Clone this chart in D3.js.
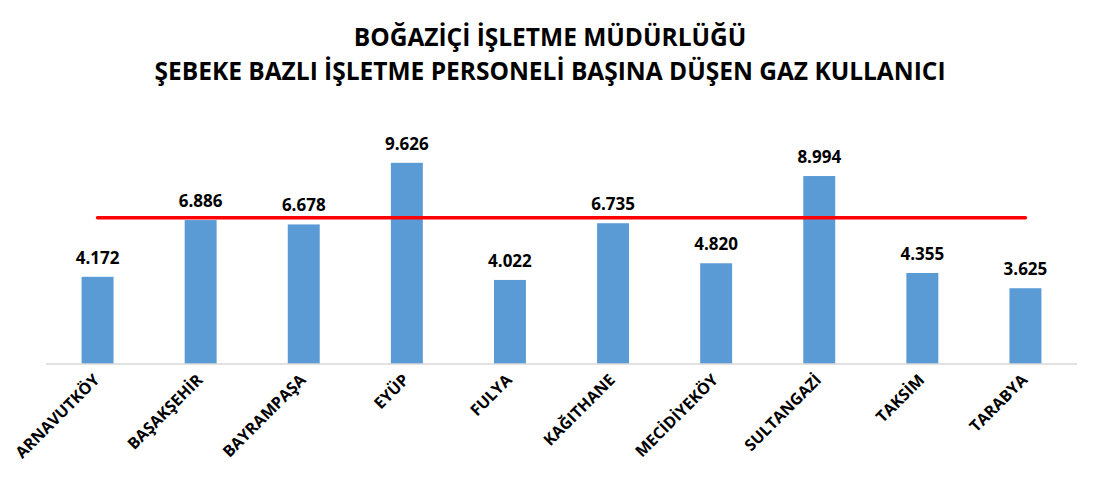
<!DOCTYPE html>
<html><head><meta charset="utf-8">
<script src="https://cdn.jsdelivr.net/npm/d3@7"></script>
<style>body{margin:0;background:#fff;}</style>
</head><body><svg id="c" width="1100" height="478"></svg>
<script>
const titleLines = ["BOĞAZİÇİ İŞLETME MÜDÜRLÜĞÜ", "ŞEBEKE BAZLI İŞLETME PERSONELİ BAŞINA DÜŞEN GAZ KULLANICI"];
const categories = ["ARNAVUTKÖY","BAŞAKŞEHİR","BAYRAMPAŞA","EYÜP","FULYA","KAĞITHANE","MECİDİYEKÖY","SULTANGAZİ","TAKSİM","TARABYA"];
const values = [4.172,6.886,6.678,9.626,4.022,6.735,4.820,8.994,4.355,3.625];
const targetValues = [7,7,7,7,7,7,7,7,7,7];

const svg = d3.select("#c");
const font = "'Open Sans', sans-serif";
const x = d3.scaleBand().domain(categories).range([46,1077]).paddingInner(0.69).paddingOuter(0.345);
const y = d3.scaleLinear().domain([0,10]).range([364,155]);

svg.selectAll("text.title").data(titleLines).join("text")
  .attr("x",550).attr("y",(d,i)=>46+i*34).attr("text-anchor","middle")
  .attr("font-family",font).attr("font-weight","bold").attr("font-size",24.5).attr("fill","#000").text(d=>d);

svg.selectAll("rect.bar").data(values).join("rect").attr("class","bar")
  .attr("x",(d,i)=>x(categories[i])).attr("width",x.bandwidth())
  .attr("y",d=>y(d)).attr("height",d=>y(0)-y(d)).attr("fill","#5b9bd5");

svg.append("line").attr("x1",46).attr("x2",1077).attr("y1",y(0)).attr("y2",y(0))
  .attr("stroke","#d9d9d9").attr("stroke-width",1.5);

const line = d3.line().x((d,i)=>x(categories[i])+x.bandwidth()/2).y(d=>y(d));
svg.append("path").datum(targetValues).attr("d",line).attr("fill","none")
  .attr("stroke","#ff0000").attr("stroke-width",3.5).attr("stroke-linecap","round");

svg.selectAll("text.val").data(values).join("text")
  .attr("x",(d,i)=>x(categories[i])+x.bandwidth()/2).attr("y",d=>y(d)-13)
  .attr("text-anchor","middle").attr("font-family",font).attr("font-weight","bold")
  .attr("font-size",17).attr("fill","#000").text(d=>d.toFixed(3));

svg.selectAll("text.cat").data(categories).join("text")
  .attr("transform",d=>`translate(${x(d)+x.bandwidth()/2+3},${y(0)+17}) rotate(-45)`)
  .attr("text-anchor","end").attr("font-family",font).attr("font-weight","bold")
  .attr("font-size",16).attr("fill","#000").text(d=>d);
</script></body></html>
